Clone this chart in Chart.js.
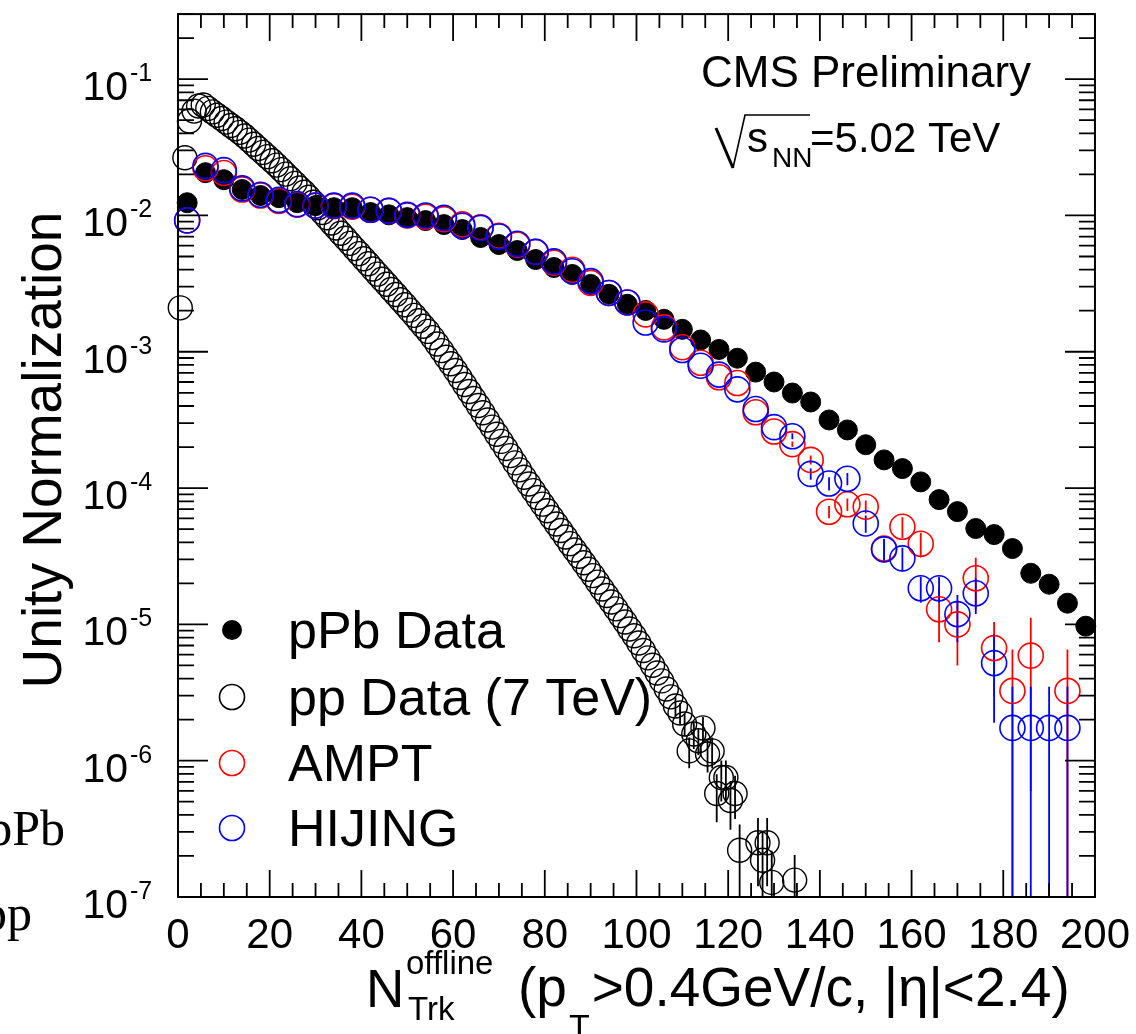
<!DOCTYPE html>
<html>
<head>
<meta charset="utf-8">
<title>Multiplicity distribution</title>
<script src="https://cdn.jsdelivr.net/npm/chart.js@4.4.0/dist/chart.umd.min.js"></script>
<style>
  html, body { margin: 0; padding: 0; background: #fff; }
  #wrap { width: 1136px; height: 1034px; }
</style>
</head>
<body>
<div id="wrap"><canvas id="myChart" width="1136" height="1034"></canvas></div>
<script>
const FONT = "'Liberation Sans', Arial, Helvetica, sans-serif";

// bin centres of the 4-track bins (pPb data, AMPT, HIJING)
const nBins = [2, 6, 10, 14, 18, 22, 26, 30, 34, 38, 42, 46, 50, 54, 58, 62, 66, 70, 74, 78,
  82, 86, 90, 94, 98, 102, 106, 110, 114, 118, 122, 126, 130, 134, 138, 142, 146, 150, 154, 158,
  162, 166, 170, 174, 178, 182, 186, 190, 194, 198];

const pPbData = [0.0124, 0.0206, 0.0183, 0.0155, 0.0140, 0.0135, 0.0124, 0.0118, 0.0114, 0.0114,
  0.0105, 0.0101, 0.00964, 0.00917, 0.00857, 0.00788, 0.00689, 0.00612, 0.00553, 0.00475,
  0.00415, 0.00369, 0.00312, 0.00264, 0.00223, 0.00201, 0.00173, 0.00146, 0.00122, 0.00104,
  0.000897, 0.000709, 0.000600, 0.000498, 0.000428, 0.000316, 0.000267, 0.000208, 0.000161, 0.000139,
  0.000111, 8.23e-5, 6.72e-5, 5.05e-5, 4.56e-5, 3.6e-5, 2.37e-5, 1.97e-5, 1.43e-5, 9.7e-6];

const amptData = [0.0092, 0.0222, 0.0205, 0.0155, 0.0140, 0.0128, 0.0120, 0.0118, 0.0117, 0.0116,
  0.0110, 0.0108, 0.0100, 0.0098, 0.0094, 0.0086, 0.0082, 0.0071, 0.0061, 0.0054,
  0.0045, 0.0040, 0.0032, 0.0027, 0.0023, 0.00188, 0.00151, 0.00108, 0.00083, 0.00065,
  0.00059, 0.00036, 0.00026, 0.00021, 0.000161, 6.7e-5, 7.6e-5, 7.3e-5, 3.6e-5, 5.2e-5,
  3.9e-5, 1.29e-5, 1.0e-5, 2.18e-5, 6.7e-6, 3.25e-6, 5.9e-6, null, 3.25e-6, null];
const amptErr = [0, 0, 0, 0, 0, 0, 0, 0, 0, 0, 0, 0, 0, 0, 0, 0, 0, 0, 0, 0,
  0, 0, 0, 0, 0, 0, 0, 0, 0, 0, 0, 0, 0, 1.0e-5, 1.2e-5, 7e-6, 8e-6, 8e-6, 6e-6, 9e-6,
  8e-6, 5.5e-6, 5e-6, 9e-6, 3.7e-6, 3.3e-6, 5.3e-6, 0, 3.3e-6, 0];

const hijingData = [0.0092, 0.0231, 0.0215, 0.0158, 0.0142, 0.0130, 0.0121, 0.0118, 0.0118, 0.0118,
  0.0110, 0.0108, 0.0101, 0.0100, 0.0096, 0.0084, 0.0081, 0.0070, 0.0062, 0.0054,
  0.0046, 0.0039, 0.0033, 0.0027, 0.0023, 0.00164, 0.00146, 0.00103, 0.00079, 0.00068,
  0.00053, 0.00038, 0.00028, 0.00024, 0.000127, 0.000108, 0.000117, 5.5e-5, 3.55e-5, 3.05e-5,
  1.84e-5, 1.84e-5, 1.19e-5, 1.69e-5, 5.2e-6, 1.74e-6, 1.74e-6, 1.74e-6, 1.74e-6, null];
const hijingErr = [0, 0, 0, 0, 0, 0, 0, 0, 0, 0, 0, 0, 0, 0, 0, 0, 0, 0, 0, 0,
  0, 0, 0, 0, 0, 0, 0, 0, 0, 0, 0, 0, 0, 1.2e-5, 1.2e-5, 1.2e-5, 1.2e-5, 8e-6, 7e-6, 6e-6,
  4e-6, 4e-6, 4.5e-6, 5e-6, 3.3e-6, 1.74e-6, 1.74e-6, 1.74e-6, 1.74e-6, 0];

// pp at 7 TeV, 1-track bins, first bin centred at 0.5
const ppFirstBin = 0.5;
const ppData = [0.0021, 0.0265, 0.0493, 0.0583, 0.0635, 0.0646, 0.0610, 0.0575, 0.0543, 0.0514,
  0.0484, 0.0457, 0.0432, 0.0407, 0.0383, 0.0357, 0.0333, 0.0310, 0.0290, 0.0270,
  0.0252, 0.0234, 0.0217, 0.0201, 0.0186, 0.0172, 0.0159, 0.0148, 0.0136, 0.0125,
  0.0114, 0.0105, 0.00962, 0.00881, 0.00809, 0.00741, 0.00681, 0.00624, 0.00571, 0.00525,
  0.00481, 0.00442, 0.00405, 0.00371, 0.00340, 0.00313, 0.00286, 0.00263, 0.00241, 0.00221,
  0.00202, 0.00185, 0.00169, 0.00154, 0.00141, 0.00127, 0.00114, 0.00102, 0.000912, 0.000817,
  0.000728, 0.000647, 0.000575, 0.000511, 0.000454, 0.000403, 0.000357, 0.000316, 0.000280, 0.000248,
  0.000220, 0.000195, 0.000173, 0.000153, 0.000136, 0.000120, 0.000107, 9.57e-5, 8.53e-5, 7.62e-5,
  6.81e-5, 6.08e-5, 5.45e-5, 4.88e-5, 4.37e-5, 3.91e-5, 3.51e-5, 3.16e-5, 2.83e-5, 2.54e-5,
  2.28e-5, 2.04e-5, 1.82e-5, 1.63e-5, 1.46e-5, 1.30e-5, 1.16e-5, 1.04e-5, 9.25e-6, 8.26e-6,
  7.31e-6, 6.44e-6, 5.68e-6, 5.01e-6, 4.40e-6, 3.85e-6, 3.36e-6, 2.94e-6, 2.52e-6, 2.24e-6,
  1.86e-6, 1.18e-6, 1.57e-6, 1.40e-6, 1.74e-6, 1.12e-6, 1.18e-6, 5.74e-7, 7.52e-7, 7.52e-7,
  5.11e-7, 5.74e-7, 2.20e-7, null, null, null, 2.50e-7, 1.86e-7, 2.50e-7, 1.28e-7,
  null, null, null, null, 1.33e-7];
// errors of the low-statistics pp tail, starting at bin index 108
const ppTailStart = 108;
const ppTailErr = [0.4e-6, 0.4e-6, 0.35e-6, 0.3e-6, 0.35e-6, 0.3e-6, 0.35e-6, 0.3e-6, 0.3e-6, 0.22e-6,
  0.25e-6, 0.25e-6, 0.2e-6, 0.2e-6, 0.12e-6, 0, 0, 0, 0.13e-6, 0.12e-6,
  0.13e-6, 0.09e-6, 0, 0, 0, 0, 0.07e-6];

const xTicks = [0, 20, 40, 60, 80, 100, 120, 140, 160, 180, 200];
const yDecades = [-7, -6, -5, -4, -3, -2, -1];
const legendLabels = ['pPb Data', 'pp Data (7 TeV)', 'AMPT', 'HIJING'];

function toPoints(xs, ys, errs) {
  const pts = [];
  ys.forEach((v, i) => {
    if (v === null) return;
    pts.push({ x: xs[i], y: v, err: errs ? errs[i] : 0 });
  });
  return pts;
}

const ppN = ppData.map((v, i) => ppFirstBin + i);
const ppErr = ppData.map((v, i) => (i >= ppTailStart ? ppTailErr[i - ppTailStart] : 0));

// vertical error bars, drawn under the markers
const errorBars = {
  id: 'errorBars',
  beforeDatasetsDraw(chart) {
    const { ctx, chartArea, scales: { x, y } } = chart;
    ctx.save();
    chart.data.datasets.forEach(ds => {
      ctx.strokeStyle = ds.pointBorderColor;
      ctx.lineWidth = 1.8;
      ctx.beginPath();
      ds.data.forEach(p => {
        if (!p.err) return;
        const px = x.getPixelForValue(p.x);
        const top = Math.max(y.getPixelForValue(p.y + p.err), chartArea.top);
        const lo = p.y - p.err;
        const bottom = lo > y.min ? y.getPixelForValue(lo) : chartArea.bottom;
        ctx.moveTo(px, top);
        ctx.lineTo(px, bottom);
      });
      ctx.stroke();
    });
    ctx.restore();
  }
};

// ROOT style frame with inward ticks, labels, titles and legend
const rootFrame = {
  id: 'rootFrame',
  afterDraw(chart) {
    const { ctx, chartArea: a, scales: { x, y } } = chart;
    ctx.save();
    ctx.strokeStyle = '#000';
    ctx.fillStyle = '#000';
    ctx.lineWidth = 2;
    ctx.strokeRect(a.left, a.top, a.right - a.left, a.bottom - a.top);

    ctx.lineWidth = 1.8;
    ctx.beginPath();
    for (let v = 0; v <= 200; v += 5) {
      const px = x.getPixelForValue(v);
      const len = v % 20 === 0 ? 27 : 14;
      ctx.moveTo(px, a.bottom); ctx.lineTo(px, a.bottom - len);
      ctx.moveTo(px, a.top); ctx.lineTo(px, a.top + len);
    }
    yDecades.forEach(d => {
      for (let k = 1; k <= 9; k++) {
        const v = k * Math.pow(10, d);
        if (v > y.max * 1.0001) break;
        const py = y.getPixelForValue(v);
        const len = k === 1 ? 30 : 16;
        ctx.moveTo(a.left, py); ctx.lineTo(a.left + len, py);
        ctx.moveTo(a.right, py); ctx.lineTo(a.right - len, py);
      }
    });
    ctx.stroke();

    // y tick labels 10^n
    ctx.textBaseline = 'alphabetic';
    yDecades.forEach(d => {
      const py = y.getPixelForValue(Math.pow(10, d));
      ctx.font = '41px ' + FONT;
      ctx.textAlign = 'right';
      ctx.fillText('10', 128, py + 21);
      ctx.font = '25px ' + FONT;
      ctx.textAlign = 'left';
      ctx.fillText(String(d), 130, py + 2);
    });

    // y title
    ctx.save();
    ctx.translate(61, 450);
    ctx.rotate(-Math.PI / 2);
    ctx.textAlign = 'center';
    ctx.font = '55px ' + FONT;
    ctx.fillText('Unity Normalization', 0, 0);
    ctx.restore();

    // x title
    ctx.textAlign = 'left';
    ctx.font = '53px ' + FONT;
    ctx.fillText('N', 366, 1007);
    ctx.font = '33px ' + FONT;
    ctx.fillText('offline', 406, 974);
    ctx.fillText('Trk', 408, 1020);
    let cx = 518;
    ctx.font = '55px ' + FONT;
    ctx.fillText('(p', cx, 1006);
    cx += ctx.measureText('(p').width;
    ctx.font = '34px ' + FONT;
    ctx.fillText('T', cx + 2, 1038);
    cx += ctx.measureText('T').width + 4;
    ctx.font = '55px ' + FONT;
    ctx.fillText('>0.4GeV/c, |\u03b7|<2.4)', cx, 1006);

    // CMS label
    ctx.font = '44px ' + FONT;
    ctx.fillText('CMS Preliminary', 701, 87);
    ctx.lineWidth = 3;
    ctx.beginPath();
    ctx.moveTo(716, 128); ctx.lineTo(733, 168);
    ctx.stroke();
    ctx.lineWidth = 1.6;
    ctx.beginPath();
    ctx.moveTo(733, 168); ctx.lineTo(745, 115); ctx.lineTo(810, 115);
    ctx.stroke();
    ctx.font = '42px ' + FONT;
    ctx.fillText('s', 747, 152);
    ctx.font = '28px ' + FONT;
    ctx.fillText('NN', 772, 167);
    ctx.font = '42px ' + FONT;
    ctx.fillText('=5.02 TeV', 810, 152);

    // legend
    const rowsY = [630, 697, 763, 828];
    chart.data.datasets.forEach((ds, i) => {
      const ly = rowsY[i];
      ctx.beginPath();
      if (ds.filled) {
        ctx.arc(232, ly, 10, 0, Math.PI * 2);
        ctx.fillStyle = '#000';
        ctx.fill();
      } else {
        ctx.arc(232, ly, 12.5, 0, Math.PI * 2);
        ctx.strokeStyle = ds.pointBorderColor;
        ctx.lineWidth = 1.6;
        ctx.stroke();
      }
      ctx.fillStyle = '#000';
      ctx.font = '52px ' + FONT;
      ctx.fillText(legendLabels[i], 288, ly + 18);
    });

    // leftover text from the slide at the left edge
    ctx.font = "50px 'Liberation Serif', 'Times New Roman', serif";
    ctx.textAlign = 'right';
    ctx.fillText('pPb', 65, 845);
    ctx.fillText('pp', 32, 930);
    ctx.restore();
  }
};

const ctx = document.getElementById('myChart');

new Chart(ctx, {
  type: 'scatter',
  data: {
    datasets: [
      {
        label: legendLabels[0],
        data: toPoints(nBins, pPbData, null),
        filled: true,
        pointRadius: 10,
        pointBackgroundColor: '#000',
        pointBorderColor: '#000',
        pointBorderWidth: 1,
        order: 4,
        clip: false
      },
      {
        label: legendLabels[1],
        data: toPoints(ppN, ppData, ppErr),
        pointRadius: 12,
        pointBackgroundColor: 'rgba(0,0,0,0)',
        pointBorderColor: '#000',
        pointBorderWidth: 1.4,
        order: 3,
        clip: false
      },
      {
        label: legendLabels[2],
        data: toPoints(nBins, amptData, amptErr),
        pointRadius: 12.5,
        pointBackgroundColor: 'rgba(0,0,0,0)',
        pointBorderColor: '#ff0000',
        pointBorderWidth: 1.6,
        order: 2,
        clip: false
      },
      {
        label: legendLabels[3],
        data: toPoints(nBins, hijingData, hijingErr),
        pointRadius: 12.5,
        pointBackgroundColor: 'rgba(0,0,0,0)',
        pointBorderColor: '#0000ff',
        pointBorderWidth: 1.6,
        order: 1,
        clip: false
      }
    ]
  },
  options: {
    responsive: false,
    animation: false,
    devicePixelRatio: 1,
    layout: { padding: { top: 11, right: 40, left: 0, bottom: 0 } },
    plugins: {
      legend: { display: false },
      tooltip: { enabled: false }
    },
    scales: {
      x: {
        type: 'linear',
        min: 0,
        max: 200,
        grid: { display: false },
        border: { display: false },
        afterBuildTicks: scale => { scale.ticks = xTicks.map(v => ({ value: v })); },
        afterFit: scale => { scale.height = 137; },
        ticks: {
          autoSkip: false,
          maxRotation: 0,
          padding: 6,
          color: '#000',
          font: { family: FONT, size: 42 }
        }
      },
      y: {
        type: 'logarithmic',
        min: 1e-7,
        max: 0.3,
        grid: { display: false },
        border: { display: false },
        ticks: { display: false },
        afterFit: scale => { scale.width = 178; }
      }
    }
  },
  plugins: [errorBars, rootFrame]
});
</script>
</body>
</html>
